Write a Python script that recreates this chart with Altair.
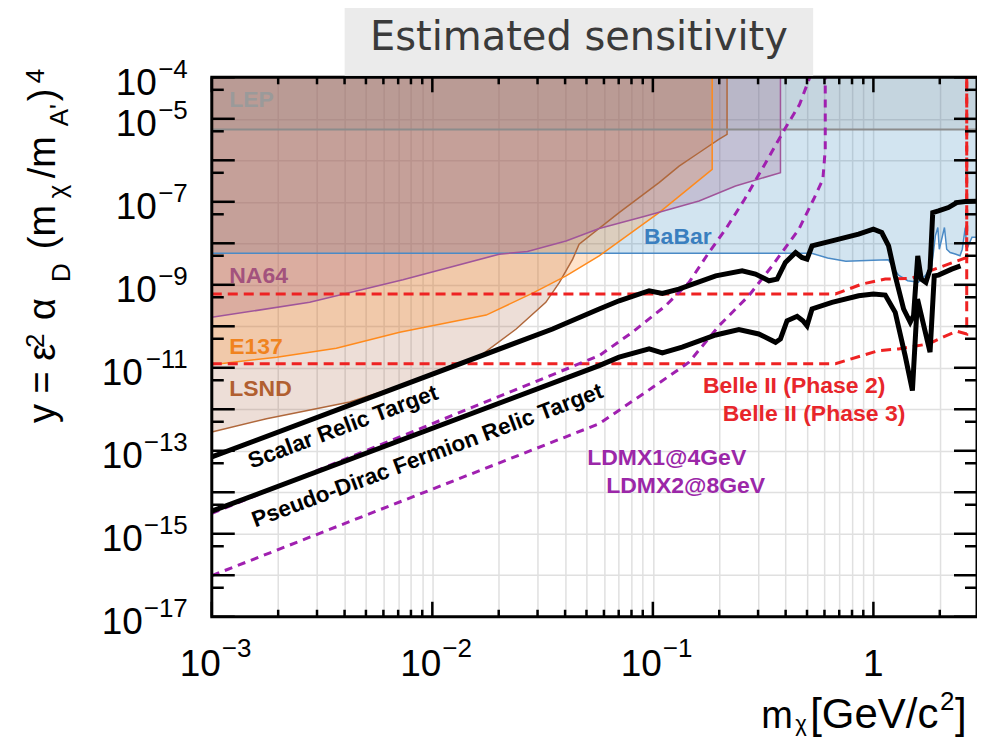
import altair as alt
import pandas as pd

W, H = 766, 540
X_DOMAIN = [1e-3, 2.95]
Y_DOMAIN = [1e-17, 1e-4]
TOP = 1e-4

# ---------------- axes helpers ----------------
x_major = [0.001, 0.01, 0.1, 1.0]
x_minor = [0.002, 0.003, 0.004, 0.005, 0.006, 0.007, 0.008, 0.009,
           0.02, 0.03, 0.04, 0.05, 0.06, 0.07, 0.08, 0.09,
           0.2, 0.3, 0.4, 0.5, 0.6, 0.7, 0.8, 0.9, 2.0]
y_major = [1e-17, 1e-16, 1e-15, 1e-14, 1e-13, 1e-12, 1e-11, 1e-10,
           1e-9, 1e-8, 1e-7, 1e-6, 1e-5, 1e-4]
y_minor = [5e-17, 5e-16, 5e-15, 5e-14, 5e-13, 5e-12, 5e-11, 5e-10,
           5e-9, 5e-8, 5e-7, 5e-6, 5e-5]
y_lab_short = [1e-4, 1e-5, 1e-7, 1e-9]
y_exp_short = ["\u22124", "\u22125", "\u22127", "\u22129"]
y_lab_long = [1e-11, 1e-13, 1e-15, 1e-17]
y_exp_long = ["\u221211", "\u221213", "\u221215", "\u221217"]
x_lab = [0.001, 0.01, 0.1]
x_exp = ["\u22123", "\u22122", "\u22121"]

# ---------------- data ----------------
lep_x = [0.001, 2.95]
lep_y = [5.5e-6, 5.5e-6]

babar_x = [0.001, 0.525, 0.62, 0.75, 1.0, 1.17, 1.30, 1.43, 1.60, 1.72, 1.84, 1.91, 1.96,
           1.99, 2.10, 2.15, 2.23, 2.35, 2.47, 2.53, 2.61, 2.65, 2.80, 2.95]
babar_y = [5.75e-9, 5.75e-9, 4.4e-9, 3.7e-9, 3.9e-9, 4.0e-9, 1.7e-9, 1.25e-9, 1.15e-9, 1.66e-9,
           2.88e-9, 1.51e-8, 2.4e-8, 7.2e-9, 2.4e-8, 7.2e-9, 6.0e-9, 5.5e-9, 5.0e-9, 7.2e-9,
           2.4e-8, 7.2e-9, 1.4e-8, 1.4e-8]

na64_x = [0.001, 0.00278, 0.00736, 0.0201, 0.0270, 0.0404, 0.0571, 0.0929, 0.162, 0.237, 0.379, 0.379]
na64_y = [1.64e-10, 3.78e-10, 1.32e-9, 5.47e-9, 6.35e-9, 1.14e-8, 2.27e-8, 4.56e-8, 1.045e-7,
          2.40e-7, 5.04e-7, 1e-4]

e137_x = [0.001, 0.00197, 0.00367, 0.00711, 0.01754, 0.0285, 0.0404, 0.0571, 0.1067, 0.1858, 0.1858]
e137_y = [1.19e-11, 1.80e-11, 2.96e-11, 7.18e-11, 1.86e-10, 6.31e-10, 1.64e-9, 4.98e-9, 5.50e-8,
          6.04e-7, 1e-4]

lsnd_x = [0.001, 0.00177, 0.00422, 0.01, 0.01694, 0.0240, 0.0327, 0.0377, 0.0433, 0.0463, 0.0703,
          0.1067, 0.1315, 0.1618, 0.199, 0.217, 0.217]
lsnd_y = [2.83e-13, 5.90e-13, 1.49e-12, 6.49e-12, 2.16e-11, 8.61e-11, 3.78e-10, 1.14e-9, 4.15e-9,
          9.5e-9, 5.47e-8, 2.90e-7, 7.26e-7, 1.52e-6, 3.20e-6, 4.20e-6, 1e-4]

scalar_x = [0.001, 0.0351, 0.0571, 0.0703, 0.0962, 0.1104, 0.1312, 0.1928, 0.254, 0.292, 0.336,
            0.366, 0.399, 0.444, 0.474, 0.500, 0.527, 0.649, 0.857, 1.00, 1.091, 1.172, 1.256,
            1.371, 1.469, 1.521, 1.589, 1.648, 1.730, 1.807, 1.858, 1.972, 2.188, 2.388, 2.606, 2.931]
scalar_y = [7.10e-14, 8.61e-11, 2.61e-10, 4.12e-10, 7.18e-10, 6.21e-10, 7.89e-10, 1.64e-9, 2.17e-9,
            1.81e-9, 1.25e-9, 1.37e-9, 3.45e-9, 6.01e-9, 4.56e-9, 4.15e-9, 8.65e-9, 1.14e-8, 1.66e-8,
            2.18e-8, 1.82e-8, 8.65e-9, 1.64e-9, 2.61e-10, 1.25e-10, 1.80e-10, 4.98e-9, 1.37e-9,
            1.14e-9, 2.38e-9, 5.50e-8, 6.01e-8, 7.26e-8, 9.57e-8, 1.01e-7, 1.03e-7]

dirac_x = [0.001, 0.0571, 0.0703, 0.0962, 0.1104, 0.1358, 0.1928, 0.2455, 0.302, 0.360, 0.379,
           0.406, 0.451, 0.479, 0.500, 0.527, 0.649, 0.857, 1.00, 1.132, 1.256, 1.393, 1.503,
           1.585, 1.807, 1.888, 1.972, 2.265, 2.483]
dirac_y = [3.49e-15, 1.13e-11, 1.80e-11, 2.84e-11, 2.28e-11, 3.13e-11, 6.18e-11, 8.28e-11, 6.53e-11,
           4.12e-11, 4.95e-11, 1.36e-10, 1.74e-10, 1.36e-10, 1.03e-10, 2.61e-10, 3.78e-10, 5.45e-10,
           5.97e-10, 5.65e-10, 2.17e-10, 1.96e-11, 2.83e-12, 4.53e-10, 2.37e-11, 1.64e-9, 1.71e-9,
           2.38e-9, 2.86e-9]

belle2_x = [0.001, 0.673, 0.887, 1.132, 1.493, 1.807, 2.188, 2.65, 2.65]
belle2_y = [6.0e-10, 6.0e-10, 1.04e-9, 1.37e-9, 1.43e-9, 2.17e-9, 3.15e-9, 4.56e-9, 1e-4]

belle3_x = [0.001, 0.673, 0.887, 1.054, 1.300, 1.778, 2.08, 2.388, 2.65, 2.65]
belle3_y = [1.25e-11, 1.25e-11, 1.96e-11, 2.59e-11, 2.84e-11, 3.76e-11, 5.53e-11, 7.59e-11,
            6.53e-11, 1e-4]

ldmx1_x = [0.001, 0.0571, 0.0807, 0.1143, 0.1459, 0.1795, 0.2138, 0.2606, 0.3215, 0.3954, 0.4624, 0.515]
ldmx1_y = [3.08e-15, 1.96e-11, 7.18e-11, 3.13e-10, 1.14e-9, 6.01e-9, 2.18e-8, 1.15e-7, 7.96e-7,
           5.53e-6, 2.21e-5, 1e-4]

ldmx2_x = [0.001, 0.0571, 0.0929, 0.1459, 0.1995, 0.2723, 0.3475, 0.4592, 0.5358, 0.590, 0.605, 0.605]
ldmx2_y = [9.8e-17, 4.48e-13, 2.59e-12, 1.36e-11, 1.03e-10, 5.45e-10, 2.86e-9, 2.18e-8, 1.15e-7,
           3.47e-7, 1.83e-6, 1e-4]

ann_text = ["LEP", "NA64", "E137", "LSND", "BaBar", "Belle II (Phase 2)", "Belle II (Phase 3)",
            "LDMX1@4GeV", "LDMX2@8GeV"]
ann_x = [1.2e-3, 1.2e-3, 1.2e-3, 1.2e-3, 0.0912, 0.1686, 0.2075, 0.0504, 0.0614]
ann_y = [2.91e-5, 1.62e-9, 3.09e-11, 3.02e-12, 1.44e-8, 3.67e-12, 7.8e-13, 6.64e-14, 1.45e-14]
ann_color = ["#9a9a9a", "#a3527d", "#f0831e", "#b15f30", "#3a7fbf", "#e8262b", "#e8262b",
             "#9b27a8", "#9b27a8"]

relic_text = ["Scalar Relic Target", "Pseudo-Dirac Fermion Relic Target"]
relic_x = [3.94e-3, 9.5e-3]
relic_y = [3.72e-13, 7.59e-14]

# ---------------- encodings ----------------
xscale = alt.Scale(type="log", domain=X_DOMAIN, nice=False)
yscale = alt.Scale(type="log", domain=Y_DOMAIN, nice=False)
x_axis = alt.Axis(values=x_major + x_minor, grid=True, gridColor="#e0e0e0", gridWidth=1.5,
                  labels=False, ticks=False, domain=False, title=None)
y_axis = alt.Axis(values=y_major, grid=True, gridColor="#e0e0e0", gridWidth=1.5,
                  labels=False, ticks=False, domain=False, title=None)
X = alt.X("x:Q", scale=xscale, axis=x_axis)
Y = alt.Y("y:Q", scale=yscale, axis=y_axis)

FONT = "Liberation Sans"
one = pd.DataFrame({"k": [0]})


def ser(xs, ys):
    return pd.DataFrame({"x": xs, "y": ys, "i": list(range(len(xs)))})


def area(xs, ys, color, op):
    df = pd.DataFrame({"x": xs, "y": ys, "top": [TOP] * len(xs)})
    return alt.Chart(df).mark_area(color=color, opacity=op, clip=True).encode(
        x=X, y=Y, y2="top:Q")


def line(xs, ys, color, width, dash=None):
    kw = dict(color=color, strokeWidth=width, clip=True)
    if dash:
        kw["strokeDash"] = dash
    return alt.Chart(ser(xs, ys)).mark_line(**kw).encode(x=X, y=Y, order="i:Q")


def txt(s, px, py, size, angle=0, align="left", color="black", font=FONT, weight="normal"):
    return alt.Chart(one).mark_text(text=s, fontSize=size, angle=angle, align=align,
                                    baseline="alphabetic", color=color, font=font,
                                    fontWeight=weight).encode(x=alt.value(px), y=alt.value(py))


layers = []
# fills
layers.append(area(babar_x, babar_y, "#1f77b4", 0.2))
layers.append(area(lsnd_x[:-1], lsnd_y[:-1], "#a0522d", 0.19))
layers.append(area(e137_x[:-1], e137_y[:-1], "#ff7f0e", 0.22))
layers.append(area(na64_x[:-1], na64_y[:-1], "#965582", 0.24))
layers.append(area(lep_x, lep_y, "#808080", 0.15))
# boundary lines
layers.append(line(babar_x, babar_y, "#4a8ac6", 1.5))
layers.append(line(lsnd_x, lsnd_y, "#b0683c", 1.5))
layers.append(line(e137_x, e137_y, "#ff8a1c", 1.5))
layers.append(line(na64_x, na64_y, "#a0559a", 1.5))
layers.append(line(lep_x, lep_y, "#8c8c8c", 2))
# projections
layers.append(line(belle2_x, belle2_y, "#ee2222", 3, [10, 6]))
layers.append(line(belle3_x, belle3_y, "#ee2222", 3, [10, 6]))
layers.append(line(ldmx1_x, ldmx1_y, "#a020b0", 3, [8, 6]))
layers.append(line(ldmx2_x, ldmx2_y, "#a020b0", 3, [8, 6]))
# relic targets
layers.append(line(scalar_x, scalar_y, "black", 5))
layers.append(line(dirac_x, dirac_y, "black", 5))

# labels
ann_df = pd.DataFrame({"x": ann_x, "y": ann_y, "t": ann_text, "c": ann_color})
layers.append(alt.Chart(ann_df).mark_text(align="left", baseline="middle", fontSize=23,
                                          fontWeight="bold", font=FONT).encode(
    x=X, y=Y, text="t:N", color=alt.Color("c:N", scale=None)))
relic_df = pd.DataFrame({"x": relic_x, "y": relic_y, "t": relic_text})
layers.append(alt.Chart(relic_df).mark_text(align="center", baseline="middle", fontSize=22.5,
                                            fontWeight="bold", font=FONT, angle=339.5,
                                            color="black").encode(x=X, y=Y, text="t:N"))

# inward ticks
xmaj = pd.DataFrame({"x": x_major})
xmin = pd.DataFrame({"x": x_minor})
ymaj = pd.DataFrame({"y": y_major})
ymin = pd.DataFrame({"y": y_minor})
tk = dict(color="black", strokeWidth=2.5)
layers.append(alt.Chart(xmaj).mark_rule(**tk).encode(x=X, y=alt.value(H), y2=alt.value(H - 15)))
layers.append(alt.Chart(xmaj).mark_rule(**tk).encode(x=X, y=alt.value(0), y2=alt.value(15)))
layers.append(alt.Chart(xmin).mark_rule(**tk).encode(x=X, y=alt.value(H), y2=alt.value(H - 7)))
layers.append(alt.Chart(xmin).mark_rule(**tk).encode(x=X, y=alt.value(0), y2=alt.value(7)))
layers.append(alt.Chart(ymaj).mark_rule(**tk).encode(y=Y, x=alt.value(0), x2=alt.value(23)))
layers.append(alt.Chart(ymaj).mark_rule(**tk).encode(y=Y, x=alt.value(W), x2=alt.value(W - 23)))
layers.append(alt.Chart(ymin).mark_rule(**tk).encode(y=Y, x=alt.value(0), x2=alt.value(12)))
layers.append(alt.Chart(ymin).mark_rule(**tk).encode(y=Y, x=alt.value(W), x2=alt.value(W - 12)))

# frame
layers.append(alt.Chart(one).mark_rect(fillOpacity=0, stroke="black", strokeWidth=3).encode(
    x=alt.value(0), x2=alt.value(W), y=alt.value(0), y2=alt.value(H)))

# title box
layers.append(alt.Chart(one).mark_rect(color="#ebebeb").encode(
    x=alt.value(133), x2=alt.value(602), y=alt.value(-71), y2=alt.value(-1.5)))
layers.append(txt("Estimated sensitivity", 367.5, -27, 40, align="center", color="#3a3a3a",
                  font="DejaVu Sans"))

# y tick labels
for vals, exps, xb in [(y_lab_short, y_exp_short, -55), (y_lab_long, y_exp_long, -69)]:
    d = pd.DataFrame({"y": vals, "e": exps})
    layers.append(alt.Chart(d).mark_text(text="10", align="right", baseline="alphabetic",
                                         fontSize=37, font=FONT, dy=17.5, color="black").encode(
        y=Y, x=alt.value(xb)))
    layers.append(alt.Chart(d).mark_text(align="right", baseline="alphabetic", fontSize=26,
                                         font=FONT, dy=0.5, color="black").encode(
        y=Y, x=alt.value(-24), text="e:N"))

# x tick labels
dx_ = pd.DataFrame({"x": x_lab, "e": x_exp})
layers.append(alt.Chart(dx_).mark_text(text="10", align="right", baseline="alphabetic", fontSize=37,
                                       font=FONT, dx=9, color="black").encode(
    x=X, y=alt.value(599)))
layers.append(alt.Chart(dx_).mark_text(align="left", baseline="alphabetic", fontSize=26,
                                       font=FONT, dx=10, color="black").encode(
    x=X, y=alt.value(580), text="e:N"))
layers.append(alt.Chart(pd.DataFrame({"x": [1.0]})).mark_text(
    text="1", align="center", baseline="alphabetic", fontSize=37, font=FONT, color="black").encode(
    x=X, y=alt.value(599)))

# x title
layers.append(txt("m", 550, 651, 38))
layers.append(txt("\u03c7", 584, 654, 22))
layers.append(txt("[GeV/c", 599, 651, 42))
layers.append(txt("2", 729, 633, 26))
layers.append(txt("]", 744, 651, 42))

# y title (rotated)
for s, px, py, sz in [("y = \u03b5", -157, 346, 38), ("2", -168, 271, 26), ("\u03b1", -157, 243, 38),
                      ("D", -142, 205, 26), ("(m", -157, 172, 38), ("\u03c7", -146, 121, 26),
                      ("/m", -157, 101, 38), ("A'", -144, 49, 26), (")", -157, 24, 38),
                      ("4", -168, 6, 26)]:
    layers.append(txt(s, px, py, sz, angle=270))

chart = alt.layer(*layers).properties(
    width=W, height=H,
    autosize=alt.AutoSizeParams(type="none"),
    padding={"left": 204, "top": 69, "right": 0, "bottom": 120},
).configure_view(strokeWidth=0)

chart.save("out.html", embed_options={"renderer": "svg", "actions": False})
